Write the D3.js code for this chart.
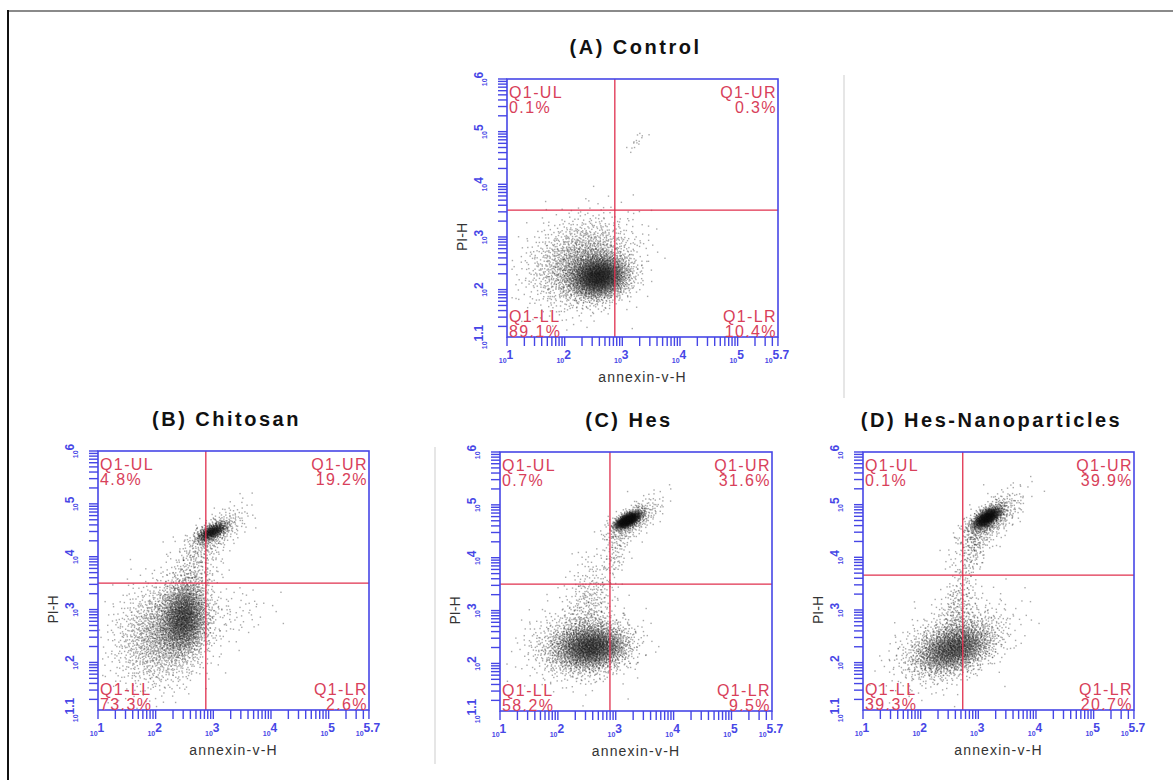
<!DOCTYPE html>
<html><head><meta charset="utf-8">
<script src="https://cdn.jsdelivr.net/npm/d3@7"></script>
<style>body{margin:0;background:#fff}svg{display:block}</style>
</head><body>
<svg id="chart" width="1173" height="780"></svg>
<script>
// ---------------- data ----------------
const panelTitles = ["(A) Control", "(B) Chitosan", "(C) Hes", "(D) Hes-Nanoparticles"];
const quadNames = ["Q1-UL", "Q1-UR", "Q1-LL", "Q1-LR"];
const quadControl = [0.1, 0.3, 89.1, 10.4];
const quadChitosan = [4.8, 19.2, 73.3, 2.6];
const quadHes = [0.7, 31.6, 58.2, 9.5];
const quadHesNano = [0.1, 39.9, 39.3, 20.7];
// quadrant gate positions (log10 of annexin-v-H, log10 of PI-H)
const gateX = [2.87, 2.87, 2.90, 2.73];
const gateY = [3.51, 3.50, 3.50, 3.66];
// axis ticks (log10 exponents)
const xTickExp = [1, 2, 3, 4, 5, 5.7];
const yTickExp = [1.1, 2, 3, 4, 5, 6];
const xTitle = "annexin-v-H";
const yTitle = "PI-H";
// event populations: [centre log10 x, centre log10 y, sd x, sd y, correlation, events]
const popControl = [
  [2.60, 2.24, 0.25, 0.20, 0.10, 2600],
  [2.30, 2.50, 0.45, 0.42, 0.20, 1800],
  [3.25, 4.80, 0.08, 0.10, 0.60, 15]
];
const popChitosan = [
  [2.50, 2.85, 0.20, 0.34, 0.10, 2000],
  [2.15, 2.55, 0.42, 0.50, 0.20, 1800],
  [2.98, 4.47, 0.13, 0.09, 0.60, 650],
  [3.05, 4.45, 0.28, 0.26, 0.70, 300],
  [2.70, 3.80, 0.22, 0.35, 0.30, 250],
  [3.40, 2.90, 0.35, 0.25, 0.30, 60]
];
const popHes = [
  [2.60, 2.30, 0.30, 0.20, 0.10, 2000],
  [2.40, 2.35, 0.42, 0.32, 0.10, 1200],
  [2.55, 3.20, 0.22, 0.42, 0.20, 300],
  [3.21, 4.71, 0.11, 0.08, 0.60, 1250],
  [3.30, 4.70, 0.24, 0.22, 0.70, 350],
  [3.00, 4.10, 0.12, 0.30, 0.40, 100]
];
const popHesNano = [
  [2.58, 2.25, 0.32, 0.22, 0.35, 1700],
  [2.55, 2.35, 0.47, 0.37, 0.45, 1100],
  [2.65, 3.10, 0.16, 0.36, 0.30, 200],
  [3.15, 4.75, 0.12, 0.10, 0.60, 1150],
  [3.20, 4.70, 0.27, 0.27, 0.70, 550],
  [2.90, 4.10, 0.15, 0.30, 0.50, 150]
];

// ---------------- layout ----------------
const quads = [quadControl, quadChitosan, quadHes, quadHesNano];
const pops = [popControl, popChitosan, popHes, popHesNano];
const boxes = [
  {x: 507, y: 79, w: 271, h: 258},
  {x: 98, y: 451, w: 271, h: 259},
  {x: 500, y: 452, w: 272, h: 259},
  {x: 863, y: 452, w: 271, h: 258}
];
const AXIS = "#4646e6", GATE = "#e0304e", QTXT = "#d8405a";
const FONT = "Arial, 'Liberation Sans', sans-serif";

const svg = d3.select("#chart");
svg.append("rect").attr("width", 1173).attr("height", 780).attr("fill", "#fff");
// outer frame
svg.append("line").attr("x1", 8).attr("x2", 1173).attr("y1", 11).attr("y2", 11).attr("stroke", "#8a8a8a").attr("stroke-width", 2);
svg.append("line").attr("x1", 8).attr("x2", 8).attr("y1", 10).attr("y2", 780).attr("stroke", "#111").attr("stroke-width", 2);
// faint separators
svg.append("line").attr("x1", 844).attr("x2", 844).attr("y1", 75).attr("y2", 398).attr("stroke", "#e6e6e6").attr("stroke-width", 2);
svg.append("line").attr("x1", 435).attr("x2", 435).attr("y1", 447).attr("y2", 764).attr("stroke", "#e6e6e6").attr("stroke-width", 2);

// low-discrepancy sequence for placing event dots
function halton(i, b) { let f = 1, r = 0; while (i > 0) { f /= b; r += f * (i % b); i = Math.floor(i / b); } return r; }
const basePairs = [[2, 3], [3, 5], [2, 5], [5, 7], [3, 7], [2, 7]];

boxes.forEach((b, p) => {
  const g = svg.append("g");
  const x = d3.scaleLog().domain([Math.pow(10, 1), Math.pow(10, 5.7)]).range([b.x, b.x + b.w]);
  const y = d3.scaleLog().domain([Math.pow(10, 1.1), Math.pow(10, 6)]).range([b.y + b.h, b.y]);

  // events
  const pts = [];
  pops[p].forEach((c, k) => {
    const [cx, cy, sx, sy, rho, n] = c;
    const [b1, b2] = basePairs[k % basePairs.length];
    const off = 17 + 101 * k + 31 * p;
    for (let i = 0; i < n; i++) {
      const u1 = halton(i + off, b1), u2 = halton(i + off, b2);
      const r = Math.sqrt(-2 * Math.log(u1));
      const z1 = r * Math.cos(2 * Math.PI * u2), z2 = r * Math.sin(2 * Math.PI * u2);
      const lx = cx + sx * z1;
      const ly = cy + sy * (rho * z1 + Math.sqrt(1 - rho * rho) * z2);
      if (lx > 1.02 && lx < 5.68 && ly > 1.12 && ly < 5.98) pts.push([Math.pow(10, lx), Math.pow(10, ly)]);
    }
  });
  g.append("g").selectAll("rect").data(pts).join("rect")
    .attr("x", d => x(d[0]) - 0.7).attr("y", d => y(d[1]) - 0.7)
    .attr("width", 1.4).attr("height", 1.4)
    .attr("fill", "#111").attr("fill-opacity", 0.36);

  // gates
  g.append("line").attr("x1", x(Math.pow(10, gateX[p]))).attr("x2", x(Math.pow(10, gateX[p])))
    .attr("y1", b.y).attr("y2", b.y + b.h).attr("stroke", GATE).attr("stroke-width", 1.3);
  g.append("line").attr("x1", b.x).attr("x2", b.x + b.w)
    .attr("y1", y(Math.pow(10, gateY[p]))).attr("y2", y(Math.pow(10, gateY[p]))).attr("stroke", GATE).attr("stroke-width", 1.3);

  // box
  g.append("rect").attr("x", b.x).attr("y", b.y).attr("width", b.w).attr("height", b.h)
    .attr("fill", "none").attr("stroke", AXIS).attr("stroke-width", 1.6);

  // minor/major log ticks
  const xt = [], yt = [];
  for (let d = 1; d <= 5; d++) for (let k = 1; k <= 9; k++) {
    const v = k * Math.pow(10, d);
    if (v >= Math.pow(10, 1) && v <= Math.pow(10, 5.7)) xt.push(v);
    if (v >= Math.pow(10, 1.1) && v <= Math.pow(10, 6)) yt.push(v);
  }
  yt.push(Math.pow(10, 6));
  g.append("g").selectAll("line").data(xt).join("line")
    .attr("x1", d => x(d)).attr("x2", d => x(d)).attr("y1", b.y + b.h).attr("y2", b.y + b.h + 9)
    .attr("stroke", AXIS).attr("stroke-width", 1.4);
  g.append("g").selectAll("line").data(yt).join("line")
    .attr("y1", d => y(d)).attr("y2", d => y(d)).attr("x1", b.x).attr("x2", b.x - 9)
    .attr("stroke", AXIS).attr("stroke-width", 1.4);

  // tick labels
  const xl = g.append("g").selectAll("text").data(xTickExp).join("text")
    .attr("x", d => x(Math.pow(10, d)) - 1).attr("y", b.y + b.h + 26)
    .attr("text-anchor", "middle").attr("fill", AXIS)
    .style("font-family", FONT).style("font-weight", "bold");
  xl.append("tspan").style("font-size", "7px").text("10");
  xl.append("tspan").style("font-size", "12px").attr("dy", -4).text(d => d);
  const yl = g.append("g").selectAll("text").data(yTickExp).join("text")
    .attr("transform", d => `translate(${b.x - 20},${y(Math.pow(10, d))}) rotate(-90)`)
    .attr("text-anchor", "middle").attr("fill", AXIS)
    .style("font-family", FONT).style("font-weight", "bold");
  yl.append("tspan").style("font-size", "7px").text("10");
  yl.append("tspan").style("font-size", "12px").attr("dy", -4).text(d => d);

  // axis titles
  g.append("text").attr("x", b.x + b.w / 2).attr("y", b.y + b.h + 45).attr("text-anchor", "middle")
    .attr("fill", "#333").style("font-family", FONT).style("font-size", "14px")
    .style("letter-spacing", "1.2px").text(xTitle);
  g.append("text").attr("transform", `translate(${b.x - 40},${b.y + b.h / 2 + 29}) rotate(-90)`)
    .attr("text-anchor", "middle").attr("fill", "#333")
    .style("font-family", FONT).style("font-size", "14px").text(yTitle);

  // panel title
  g.append("text").attr("x", b.x + b.w / 2 - 7).attr("y", b.y - 25).attr("text-anchor", "middle")
    .attr("fill", "#111").style("font-family", FONT)
    .style("font-size", "20px").style("font-weight", "bold").style("letter-spacing", "2.5px").text(panelTitles[p]);

  // quadrant labels
  const q = quads[p];
  const pos = [
    {x: b.x + 2, y: b.y + 19, a: "start"},
    {x: b.x + b.w - 1, y: b.y + 19, a: "end"},
    {x: b.x + 2, y: b.y + b.h - 15, a: "start"},
    {x: b.x + b.w - 1, y: b.y + b.h - 15, a: "end"}
  ];
  pos.forEach((o, i) => {
    const t = g.append("text").attr("text-anchor", o.a).attr("fill", QTXT)
      .style("font-family", FONT).style("font-size", "16px")
      .style("letter-spacing", "1.4px");
    t.append("tspan").attr("x", o.x).attr("y", o.y).text(quadNames[i]);
    t.append("tspan").attr("x", o.x).attr("y", o.y + 15).text(q[i].toFixed(1) + "%");
  });
});
</script>
</body></html>
